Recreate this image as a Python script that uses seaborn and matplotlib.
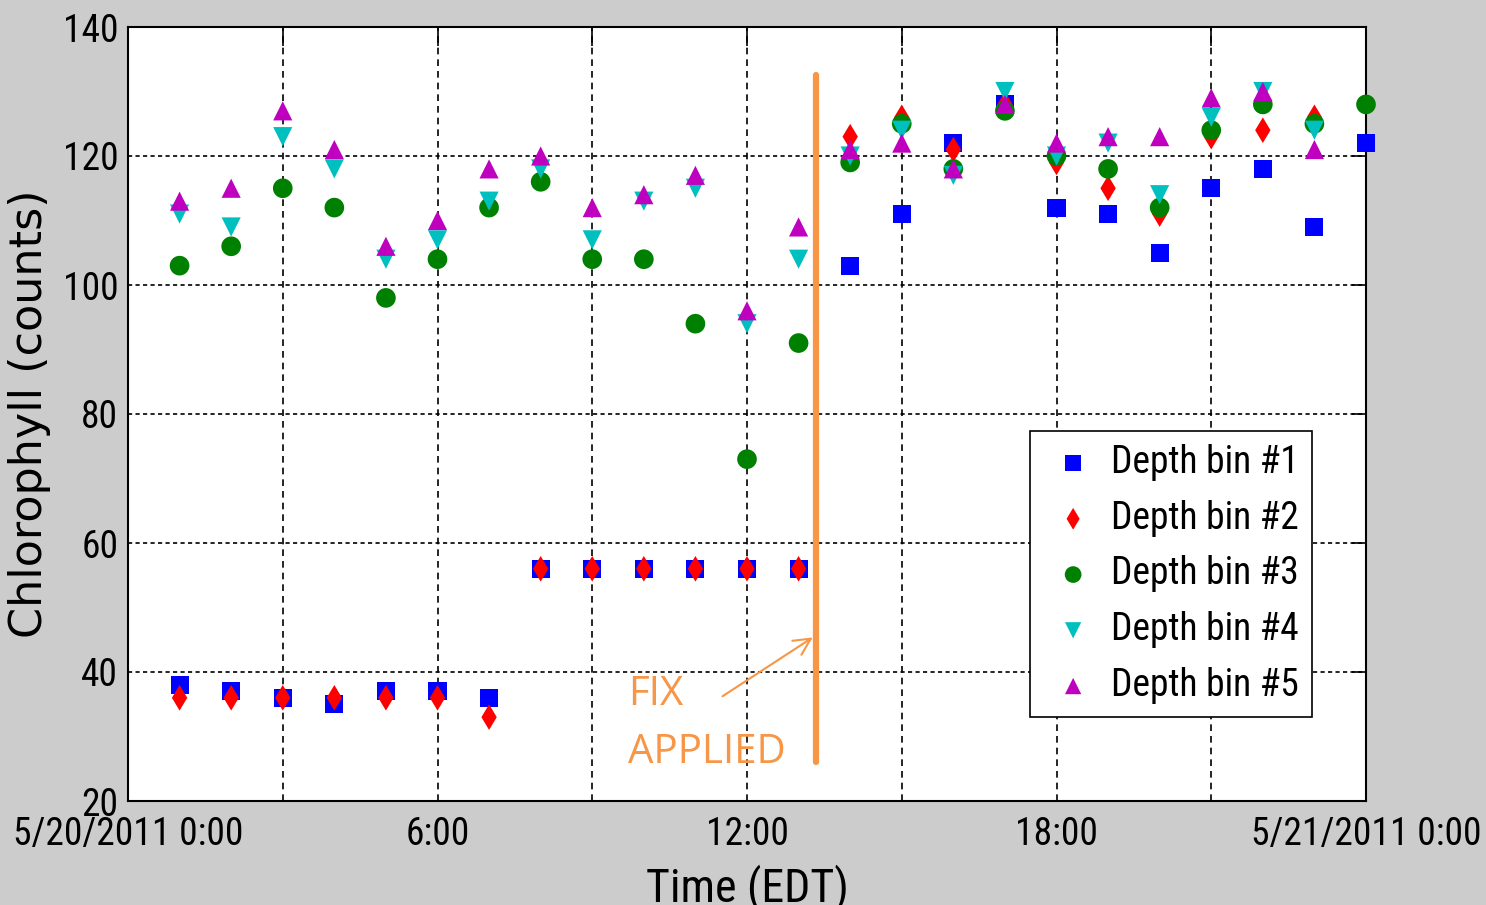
import numpy as np
import pandas as pd
import matplotlib
matplotlib.use("Agg")
import matplotlib.pyplot as plt
import seaborn as sns

# hours after 5/20/2011 0:00
hours = list(range(1, 25))
bin1 = [38, 37, 36, 35, 37, 37, 36, 56, 56, 56, 56, 56, 56, 103, 111, 122, 128, 112, 111, 105, 115, 118, 109, 122]
bin2 = [36, 36, 36, 36, 36, 36, 33, 56, 56, 56, 56, 56, 56, 123, 126, 121, 128, 119, 115, 111, 123, 124, 126, np.nan]
bin3 = [103, 106, 115, 112, 98, 104, 112, 116, 104, 104, 94, 73, 91, 119, 125, 118, 127, 120, 118, 112, 124, 128, 125, 128]
bin4 = [111, 109, 123, 118, 104, 107, 113, 118, 107, 113, 115, 94, 104, 120, 124, 117, 130, 120, 122, 114, 126, 130, 124, np.nan]
bin5 = [113, 115, 127, 121, 106, 110, 118, 120, 112, 114, 117, 96, 109, 121, 122, 118, 128, 122, 123, 123, 129, 130, 121, np.nan]

labels = ['Depth bin #1', 'Depth bin #2', 'Depth bin #3', 'Depth bin #4', 'Depth bin #5']
colors = ['#0000ff', '#ff0000', '#008000', '#00bfbf', '#bf00bf']
markers = ['s', 'd', 'o', 'v', '^']
sizes = [170, 170, 200, 190, 190]

xticks = [0, 6, 12, 18, 24]
xticklabels = ['5/20/2011 0:00', '6:00', '12:00', '18:00', '5/21/2011 0:00']

narrow = ['Liberation Sans Narrow', 'Roboto Condensed', 'Noto Sans Condensed', 'Noto Sans',
          'DejaVu Sans']

sns.set_style("white")
plt.rcParams['font.family'] = narrow
plt.rcParams['font.stretch'] = 'condensed'
plt.rcParams['text.color'] = 'black'
plt.rcParams['axes.labelcolor'] = 'black'

fig = plt.figure(figsize=(14.86, 9.05), dpi=100, facecolor='#cccccc')
ax = fig.add_axes([128/1486, 1 - 801/905, (1366-128)/1486, (801-27)/905])
ax.set_facecolor('white')

for vals, lab, c, m, s in zip([bin1, bin2, bin3, bin4, bin5], labels, colors, markers, sizes):
    df = pd.DataFrame({'Time': hours, 'Chl': vals}).dropna()
    sns.scatterplot(data=df, x='Time', y='Chl', color=c, marker=m, s=s,
                    edgecolor='none', label=lab, ax=ax, zorder=3, clip_on=False)

ax.set_xlim(0, 24)
ax.set_ylim(20, 140)
ax.set_xticks(xticks)
ax.set_xticklabels(xticklabels)
ax.set_xticks([3, 9, 15, 21], minor=True)
ax.set_yticks(range(20, 141, 20))

ax.tick_params(axis='both', which='both', direction='in', top=True, right=True,
               length=10, width=1.2, labelsize=27, colors='black')
ax.tick_params(axis='x', which='both', length=14, pad=11)
ax.tick_params(axis='y', pad=7)

ax.xaxis.grid(True, which='both', color='black', linestyle=(0, (4, 3)), linewidth=1.2)
ax.yaxis.grid(True, which='major', color='black', linestyle=(0, (2.5, 2)), linewidth=1.2)
ax.set_axisbelow(True)
for sp in ax.spines.values():
    sp.set_color('black')
    sp.set_linewidth(1.5)

ax.set_xlabel('Time (EDT)', fontsize=33)
ax.xaxis.set_label_coords(0.5, -0.081)
ax.set_ylabel('Chlorophyll (counts)', fontsize=32, family='DejaVu Sans', stretch='normal')
ax.yaxis.set_label_coords(-0.062, 0.5)

# annotation for the fix
orange = '#f79646'
ax.plot([13.34, 13.34], [26.0, 132.6], color=orange, linewidth=4.5, zorder=4)
ax.annotate('', xy=(13.32, 45.6), xytext=(11.48, 36.0),
            arrowprops=dict(arrowstyle='->', color=orange, lw=1.5, mutation_scale=30))
ax.text(9.69, 34.9, 'FIX', color=orange, fontsize=29, family='Open Sans', stretch='normal', va='baseline')
ax.text(9.69, 25.9, 'APPLIED', color=orange, fontsize=29, family='Open Sans', stretch='normal', va='baseline')

leg = ax.legend(loc='lower left', bbox_to_anchor=(0.7286, 0.1085), borderaxespad=0,
                fontsize=27, frameon=True, fancybox=False, shadow=False, framealpha=1,
                edgecolor='black', handlelength=1.6, handletextpad=0.2, labelspacing=0.5,
                borderpad=0.35, markerscale=0.85)
leg.get_frame().set_linewidth(1.2)

fig.savefig('out.png', dpi=100, facecolor=fig.get_facecolor())
